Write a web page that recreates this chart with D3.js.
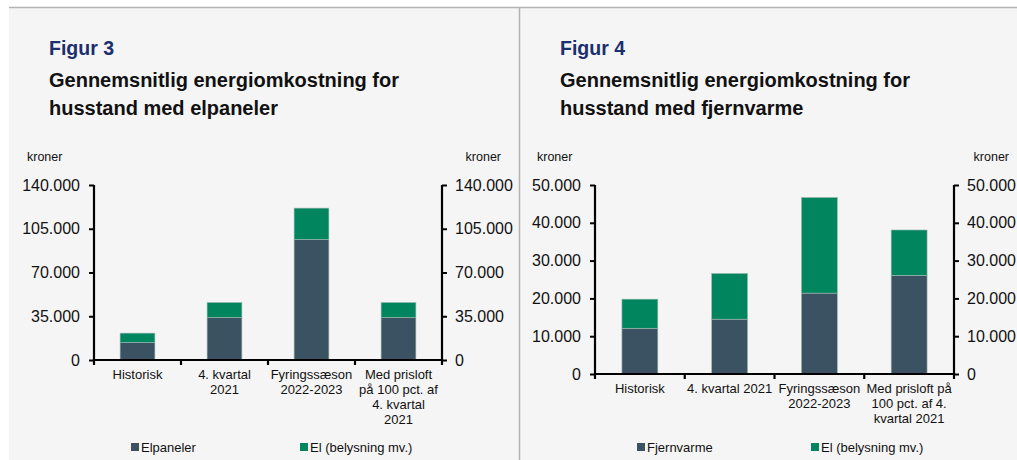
<!DOCTYPE html>
<html>
<head>
<meta charset="utf-8">
<script src="https://cdn.jsdelivr.net/npm/d3@7"></script>
<style>
  body { margin: 0; background: #ffffff; }
  text { font-family: Arial, "Liberation Sans", sans-serif; }
</style>
</head>
<body>
<div id="chart"></div>
<script>
// Data
var categories3 = ["Historisk", "4. kvartal 2021", "Fyringssæson 2022-2023", "Med prisloft på 100 pct. af 4. kvartal 2021"];
var labels3 = [["Historisk"], ["4. kvartal", "2021"], ["Fyringssæson", "2022-2023"], ["Med prisloft", "på 100 pct. af", "4. kvartal", "2021"]];
var elpaneler = [14000, 34000, 96500, 34000];
var elBelysning3 = [7500, 12000, 25000, 12000];
var ticks3 = [0, 35000, 70000, 105000, 140000];

var categories4 = ["Historisk", "4. kvartal 2021", "Fyringssæson 2022-2023", "Med prisloft på 100 pct. af 4. kvartal 2021"];
var labels4 = [["Historisk"], ["4. kvartal 2021"], ["Fyringssæson", "2022-2023"], ["Med prisloft på", "100 pct. af 4.", "kvartal 2021"]];
var fjernvarme = [12100, 14500, 21400, 26100];
var elBelysning4 = [7700, 12100, 25300, 12000];
var ticks4 = [0, 10000, 20000, 30000, 40000, 50000];

var seriesColors = ["#3b5262", "#00855f"];

var svgWidth = 1017;
var svgHeight = 460;

var dk = d3.formatLocale({ decimal: ",", thousands: ".", grouping: [3], currency: ["", ""] });
var fmt = dk.format(",");

var svg = d3.select("#chart")
  .append("svg")
  .attr("width", svgWidth)
  .attr("height", svgHeight);

// panel backgrounds and dividers
svg.append("rect").attr("x", 9).attr("y", 7).attr("width", svgWidth - 9).attr("height", svgHeight - 7).attr("fill", "#f5f5f5");
svg.append("line").attr("x1", 9).attr("x2", svgWidth).attr("y1", 7.5).attr("y2", 7.5).attr("stroke", "#b3b3b3").attr("stroke-width", 1.5);
svg.append("line").attr("x1", 519.5).attr("x2", 519.5).attr("y1", 7).attr("y2", svgHeight).attr("stroke", "#b3b3b3").attr("stroke-width", 1.5);

function drawPanel(opt) {
  var g = svg.append("g");

  g.append("text")
    .attr("x", opt.titleX).attr("y", 55)
    .attr("font-size", "19.5px").attr("font-weight", "bold")
    .attr("fill", "#1b2f6e")
    .text(opt.figur);

  opt.title.forEach(function(line, i) {
    g.append("text")
      .attr("x", opt.titleX).attr("y", 87 + i * 28)
      .attr("font-size", "20px").attr("font-weight", "bold")
      .attr("fill", "#111")
      .text(line);
  });

  g.append("text").attr("x", opt.kronerLeft).attr("y", 161)
    .attr("font-size", "12.5px").attr("fill", "#111").text("kroner");
  g.append("text").attr("x", opt.kronerRight).attr("y", 161)
    .attr("text-anchor", "end")
    .attr("font-size", "12.5px").attr("fill", "#111").text("kroner");

  var x = d3.scaleBand()
    .domain(opt.categories)
    .range([opt.left, opt.right])
    .padding(0);

  var y = d3.scaleLinear()
    .domain([0, d3.max(opt.ticks)])
    .range([opt.bottom, opt.top]);

  var stackData = opt.categories.map(function(c, i) {
    return { cat: c, a: opt.s1[i], b: opt.s2[i] };
  });
  var stacked = d3.stack().keys(["a", "b"])(stackData);

  var barW = x.bandwidth() * 0.4;

  g.selectAll(".layer")
    .data(stacked)
    .enter()
    .append("g")
    .attr("fill", function(d, i) { return seriesColors[i]; })
    .selectAll("rect")
    .data(function(d) { return d; })
    .enter()
    .append("rect")
    .attr("x", function(d) { return x(d.data.cat) + (x.bandwidth() - barW) / 2; })
    .attr("y", function(d) { return y(d[1]); })
    .attr("width", barW)
    .attr("height", function(d) { return y(d[0]) - y(d[1]); })
    .attr("stroke", "#9fb8b0")
    .attr("stroke-width", 0.6);

  // left axis
  var leftAxis = d3.axisLeft(y).tickValues(opt.ticks).tickFormat(fmt).tickSize(5).tickPadding(9);
  var gl = g.append("g").attr("transform", "translate(" + opt.left + ",0)").call(leftAxis);

  // right axis
  var rightAxis = d3.axisRight(y).tickValues(opt.ticks).tickFormat(fmt).tickSize(5).tickPadding(8);
  var gr = g.append("g").attr("transform", "translate(" + opt.right + ",0)").call(rightAxis);

  [gl, gr].forEach(function(ax) {
    ax.select(".domain").remove();
    ax.selectAll("line").attr("stroke", "#000").attr("stroke-width", 2);
    ax.selectAll("text").attr("font-size", "16px").attr("fill", "#111")
      .attr("font-family", "Arial, 'Liberation Sans', sans-serif");
  });

  // vertical axis lines
  g.append("line").attr("x1", opt.left).attr("x2", opt.left).attr("y1", opt.top).attr("y2", opt.bottom + 1)
    .attr("stroke", "#000").attr("stroke-width", 2.2);
  g.append("line").attr("x1", opt.right).attr("x2", opt.right).attr("y1", opt.top).attr("y2", opt.bottom + 1)
    .attr("stroke", "#000").attr("stroke-width", 2.2);

  // x axis line and boundary ticks
  g.append("line").attr("x1", opt.left).attr("x2", opt.right).attr("y1", opt.bottom).attr("y2", opt.bottom)
    .attr("stroke", "#000").attr("stroke-width", 2.2);
  var bounds = opt.categories.map(function(c) { return x(c); }).concat([opt.right]);
  g.selectAll(".xtick")
    .data(bounds)
    .enter()
    .append("line")
    .attr("x1", function(d) { return d; })
    .attr("x2", function(d) { return d; })
    .attr("y1", opt.bottom)
    .attr("y2", opt.bottom + 5)
    .attr("stroke", "#000").attr("stroke-width", 2.2);

  // category labels
  opt.categories.forEach(function(c, i) {
    var t = g.append("text")
      .attr("x", x(c) + x.bandwidth() / 2)
      .attr("y", opt.bottom + 19)
      .attr("text-anchor", "middle")
      .attr("font-size", "13px").attr("fill", "#111");
    opt.labels[i].forEach(function(line, j) {
      t.append("tspan")
        .attr("x", x(c) + x.bandwidth() / 2)
        .attr("dy", j === 0 ? 0 : 15)
        .text(line);
    });
  });

  // legend
  opt.legend.forEach(function(name, i) {
    var lx = opt.legendX[i];
    g.append("rect").attr("x", lx).attr("y", 443).attr("width", 8).attr("height", 8)
      .attr("fill", seriesColors[i]);
    g.append("text").attr("x", lx + 10).attr("y", 452)
      .attr("font-size", "13px").attr("fill", "#111").text(name);
  });
}

drawPanel({
  figur: "Figur 3",
  title: ["Gennemsnitlig energiomkostning for", "husstand med elpaneler"],
  titleX: 49,
  kronerLeft: 27, kronerRight: 501,
  categories: categories3, labels: labels3,
  s1: elpaneler, s2: elBelysning3,
  ticks: ticks3,
  left: 94, right: 442, top: 185, bottom: 360,
  legend: ["Elpaneler", "El (belysning mv.)"],
  legendX: [131, 300]
});

drawPanel({
  figur: "Figur 4",
  title: ["Gennemsnitlig energiomkostning for", "husstand med fjernvarme"],
  titleX: 560,
  kronerLeft: 537, kronerRight: 1009,
  categories: categories4, labels: labels4,
  s1: fjernvarme, s2: elBelysning4,
  ticks: ticks4,
  left: 595, right: 954, top: 185, bottom: 374,
  legend: ["Fjernvarme", "El (belysning mv.)"],
  legendX: [637, 811]
});
</script>
</body>
</html>
